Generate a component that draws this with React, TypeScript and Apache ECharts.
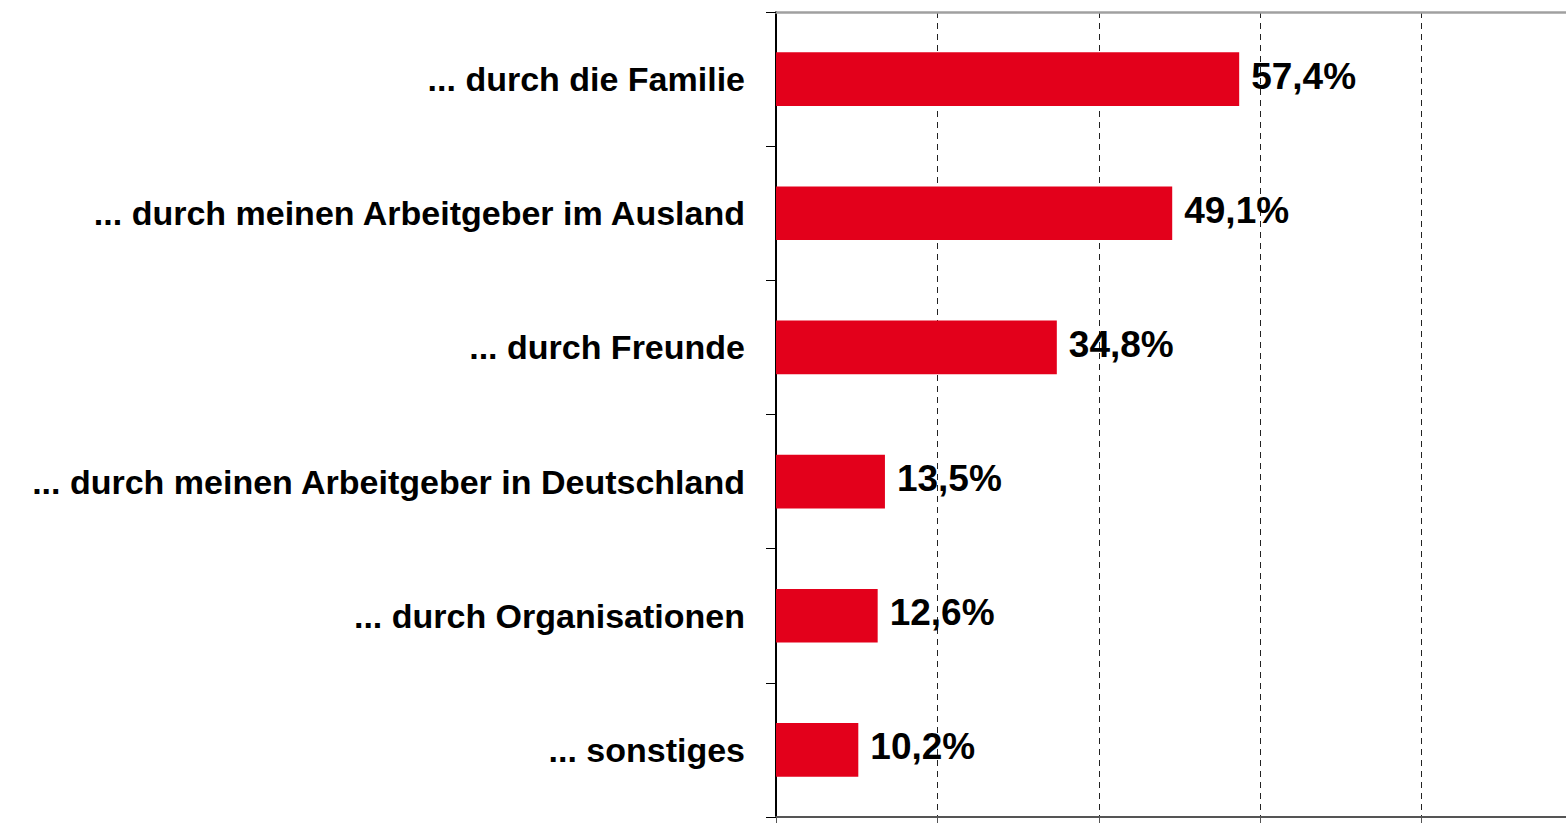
import React, { useEffect, useRef } from "react";
import * as echarts from "echarts";

const categories = [
  "... durch die Familie",
  "... durch meinen Arbeitgeber im Ausland",
  "... durch Freunde",
  "... durch meinen Arbeitgeber in Deutschland",
  "... durch Organisationen",
  "... sonstiges",
];
const values = [57.4, 49.1, 34.8, 13.5, 12.6, 10.2];
const xMin = 0;
const xMax = 97.9;
const xInterval = 20;

export default function App() {
  const ref = useRef<HTMLDivElement>(null);
  useEffect(() => {
    document.body.style.margin = "0";
    if (!ref.current) return;
    const chart = echarts.init(ref.current, null, { renderer: "svg" });
    const font = "'Liberation Sans', Arial, sans-serif";
    chart.setOption({
      animation: false,
      grid: { left: 776, right: 0, top: 12, bottom: 7, containLabel: false },
      xAxis: [
        {
          type: "value",
          min: xMin,
          max: xMax,
          interval: xInterval,
          position: "bottom",
          axisLine: { show: true, lineStyle: { color: "#555", width: 2 } },
          axisTick: { show: true, length: 6, lineStyle: { color: "#555", width: 1 } },
          axisLabel: { show: false },
          splitLine: { show: true, lineStyle: { color: "#222", width: 1, type: [6, 5] } },
        },
        {
          type: "value",
          min: xMin,
          max: xMax,
          interval: xInterval,
          position: "top",
          axisLine: { show: true, lineStyle: { color: "#a0a0a0", width: 2.5 } },
          axisTick: { show: false },
          axisLabel: { show: false },
          splitLine: { show: false },
        },
      ],
      yAxis: {
        type: "category",
        data: categories,
        inverse: true,
        axisLine: { show: true, lineStyle: { color: "#000", width: 2 } },
        axisTick: { show: true, length: 10, inside: false, lineStyle: { color: "#000", width: 1 } },
        axisLabel: {
          margin: 31,
          color: "#000",
          fontFamily: font,
          fontWeight: "bold",
          fontSize: 34,
        },
      },
      series: [
        {
          type: "bar",
          data: values,
          barWidth: "40%",
          itemStyle: { color: "#e3001b" },
          label: {
            show: true,
            position: "right",
            distance: 12,
            offset: [0, -3],
            color: "#000",
            fontFamily: font,
            fontWeight: "bold",
            fontSize: 37,
            formatter: (p: any) => String(p.value).replace(".", ",") + "%",
          },
        },
      ],
    });
    return () => chart.dispose();
  }, []);
  return <div ref={ref} style={{ width: 1566, height: 824 }} />;
}
